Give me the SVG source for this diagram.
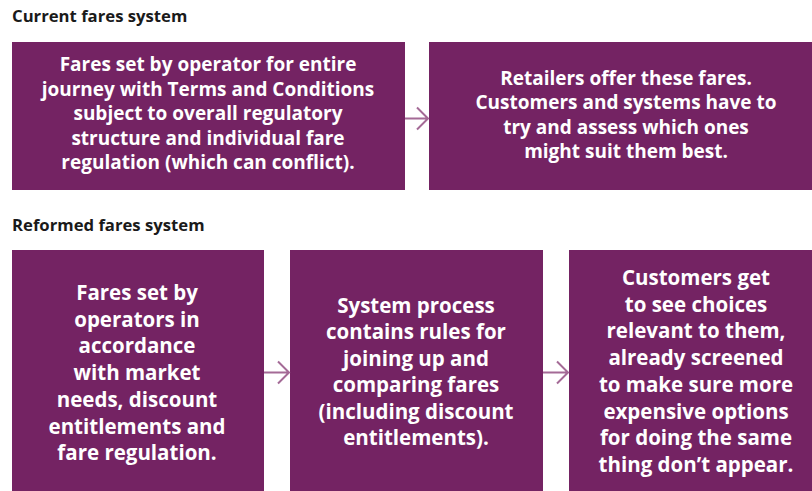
<svg xmlns="http://www.w3.org/2000/svg" width="812" height="491" viewBox="0 0 812 491">
<defs>
<style>
.box{fill:#742363;}
.t{font-family:"Open Sans","Liberation Sans",sans-serif;font-weight:700;font-size:19px;fill:#ffffff;text-anchor:middle;}
.t2{font-size:20.5px;}
.h{font-family:"Open Sans","Liberation Sans",sans-serif;font-weight:700;font-size:16.7px;fill:#1a1a1a;}
.c{fill:none;stroke:#a46a96;stroke-width:2;}
</style>
</defs>
<rect width="812" height="491" fill="#ffffff"/>
<text class="h" x="12" y="22">Current fares system</text>
<text class="h" x="12" y="231">Reformed fares system</text>
<g id="current-operator">
<rect class="box" x="12" y="42" width="393" height="148"/>
<text class="t"><tspan x="208" y="71">Fares set by operator for entire</tspan><tspan x="208" y="95.5">journey with Terms and Conditions</tspan><tspan x="208" y="120">subject to overall regulatory</tspan><tspan x="208" y="144.5">structure and individual fare</tspan><tspan x="208" y="169">regulation (which can conflict).</tspan></text>
</g>
<g id="current-retailers">
<rect class="box" x="429" y="42" width="383" height="148"/>
<text class="t"><tspan x="626" y="85">Retailers offer these fares.</tspan><tspan x="626" y="109.3">Customers and systems have to</tspan><tspan x="626" y="133.6">try and assess which ones</tspan><tspan x="626" y="158">might suit them best.</tspan></text>
</g>
<g id="reformed-operators">
<rect class="box" x="12" y="250" width="252" height="241"/>
<text class="t t2"><tspan x="137" y="300">Fares set by</tspan><tspan x="137" y="326.7">operators in</tspan><tspan x="137" y="353.4">accordance</tspan><tspan x="137" y="380.1">with market</tspan><tspan x="137" y="406.8">needs, discount</tspan><tspan x="137" y="433.5">entitlements and</tspan><tspan x="137" y="460.2">fare regulation.</tspan></text>
</g>
<g id="reformed-system">
<rect class="box" x="290" y="250" width="253" height="241"/>
<text class="t t2"><tspan x="416" y="313">System process</tspan><tspan x="416" y="339.4">contains rules for</tspan><tspan x="416" y="365.8">joining up and</tspan><tspan x="416" y="392.2">comparing fares</tspan><tspan x="416" y="418.6">(including discount</tspan><tspan x="416" y="445">entitlements).</tspan></text>
</g>
<g id="reformed-customers">
<rect class="box" x="569" y="250" width="243" height="241"/>
<text class="t t2"><tspan x="696" y="285">Customers get</tspan><tspan x="696" y="311.7">to see choices</tspan><tspan x="696" y="338.4">relevant to them,</tspan><tspan x="696" y="365.1">already screened</tspan><tspan x="696" y="391.8">to make sure more</tspan><tspan x="696" y="418.5">expensive options</tspan><tspan x="696" y="445.2">for doing the same</tspan><tspan x="696" y="471.9">thing don’t appear.</tspan></text>
</g>
<g id="connectors">
<path class="c" d="M405 118.5H428M417 107.5L428 118.5L417 129.5"/>
<path class="c" d="M264 372.5H289M278 361.5L289 372.5L278 383.5"/>
<path class="c" d="M543 372.5H568M557 361.5L568 372.5L557 383.5"/>
</g>
</svg>
